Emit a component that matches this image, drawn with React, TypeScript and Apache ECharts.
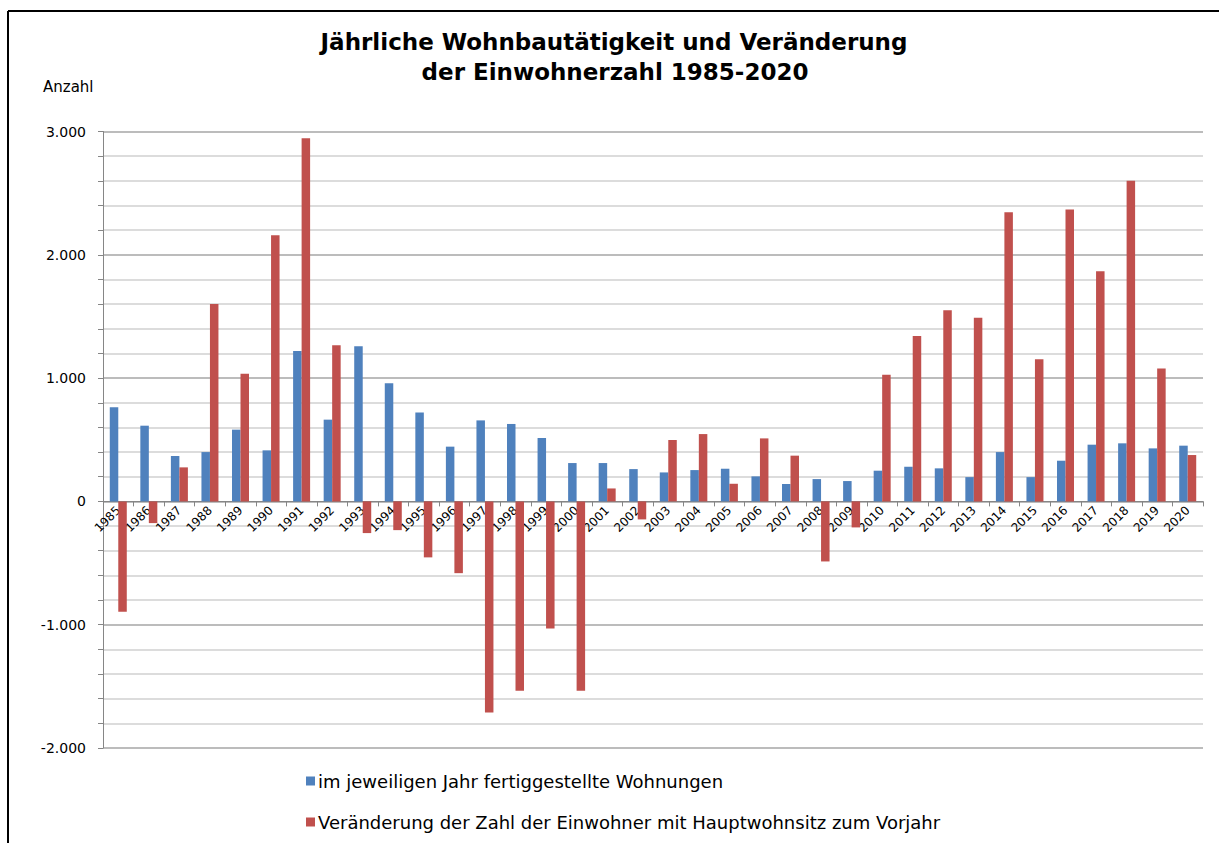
import React, { useEffect, useRef } from "react";
import * as echarts from "echarts";

const years: string[] = [
  "1985", "1986", "1987", "1988", "1989", "1990", "1991", "1992", "1993", "1994",
  "1995", "1996", "1997", "1998", "1999", "2000", "2001", "2002", "2003", "2004",
  "2005", "2006", "2007", "2008", "2009", "2010", "2011", "2012", "2013", "2014",
  "2015", "2016", "2017", "2018", "2019", "2020",
];

const wohnungen: number[] = [
  763, 614, 368, 400, 582, 414, 1220, 663, 1258, 958,
  720, 444, 657, 628, 514, 311, 311, 262, 235, 254,
  265, 203, 141, 181, 165, 249, 281, 268, 197, 400,
  197, 330, 460, 471, 430, 452,
];

const einwohner: number[] = [
  -895, -176, 276, 1601, 1036, 2159, 2946, 1266, -257, -233,
  -454, -582, -1712, -1536, -1031, -1536, 105, -146, 498, 546,
  143, 511, 371, -487, -211, 1028, 1342, 1550, 1490, 2345,
  1152, 2367, 1866, 2600, 1077, 376,
];

const seriesNames: string[] = [
  "im jeweiligen Jahr fertiggestellte Wohnungen",
  "Veränderung der Zahl der Einwohner mit Hauptwohnsitz zum Vorjahr",
];

const titleLines: string[] = [
  "Jährliche Wohnbautätigkeit und Veränderung",
  "der Einwohnerzahl 1985-2020",
];

const FONT = "'DejaVu Sans', 'Open Sans', sans-serif";

const Y_MIN = -2000;
const Y_MAX = 3000;
const GRID_TOP = 131.5;
const GRID_BOTTOM = 95;
const CHART_H = 843;

function fmt(v: number): string {
  const s = Math.abs(v).toString().replace(/\B(?=(\d{3})+(?!\d))/g, ".");
  return (v < 0 ? "-" : "") + s;
}

export default function App() {
  const ref = useRef<HTMLDivElement>(null);
  useEffect(() => {
    if (!ref.current) return;
    const chart = echarts.init(ref.current, null, { renderer: "svg" });
    const gridH = CHART_H - GRID_TOP - GRID_BOTTOM;
    const zeroOffset = (gridH * (0 - Y_MIN)) / (Y_MAX - Y_MIN);
    chart.setOption({
      animation: false,
      backgroundColor: "#ffffff",
      textStyle: { fontFamily: FONT },
      title: [
        {
          text: titleLines[0],
          left: 614,
          top: 30,
          padding: 0,
          textAlign: "center",
          textStyle: { fontFamily: FONT, fontSize: 23, fontWeight: "bold", color: "#000" },
        },
        {
          text: titleLines[1],
          left: 615,
          top: 60,
          padding: 0,
          textAlign: "center",
          textStyle: { fontFamily: FONT, fontSize: 23, fontWeight: "bold", color: "#000" },
        },
        {
          text: "Anzahl",
          left: 43,
          top: 79,
          padding: 0,
          textStyle: { fontFamily: FONT, fontSize: 15, fontWeight: "normal", color: "#000" },
        },
      ],
      graphic: [
        { type: "line", shape: { x1: 8, y1: 11, x2: 1219, y2: 11 }, style: { stroke: "#000", lineWidth: 2 } },
        { type: "line", shape: { x1: 8, y1: 11, x2: 8, y2: 843 }, style: { stroke: "#000", lineWidth: 2 } },
      ],
      legend: {
        orient: "vertical",
        left: 306,
        top: 771,
        padding: 0,
        itemWidth: 9,
        itemHeight: 9,
        itemGap: 21,
        icon: "rect",
        textStyle: { fontFamily: FONT, fontSize: 18, color: "#000", lineHeight: 20, padding: [0, 0, 0, -2] },
        data: seriesNames,
      },
      grid: { left: 103, right: 16, top: GRID_TOP, bottom: GRID_BOTTOM, containLabel: false },
      xAxis: {
        type: "category",
        data: years,
        position: "bottom",
        offset: -zeroOffset,
        axisLine: { onZero: false, lineStyle: { color: "#868686" } },
        axisTick: { show: true, length: 5, lineStyle: { color: "#868686" } },
        axisLabel: { interval: 0, rotate: 45, fontSize: 12, color: "#000", margin: 7, fontFamily: FONT },
        splitLine: { show: false },
        z: 1,
      },
      yAxis: {
        type: "value",
        min: Y_MIN,
        max: Y_MAX,
        interval: 200,
        axisLine: { show: true, lineStyle: { color: "#868686" } },
        axisTick: { show: true, length: 5, lineStyle: { color: "#868686" } },
        axisLabel: {
          fontSize: 14,
          color: "#000",
          margin: 17,
          fontFamily: FONT,
          formatter: (v: number) => (v % 1000 === 0 ? fmt(v) : ""),
        },
        splitLine: {
          show: true,
          lineStyle: { color: ["#a6a6a6", "#d0d0d0", "#d0d0d0", "#d0d0d0", "#d0d0d0"], width: 1.5 },
        },
      },
      series: [
        {
          name: seriesNames[0],
          type: "bar",
          data: wohnungen,
          barWidth: 8.5,
          barGap: "0%",
          itemStyle: { color: "#4F81BD" },
          z: 3,
        },
        {
          name: seriesNames[1],
          type: "bar",
          data: einwohner,
          barWidth: 8.5,
          itemStyle: { color: "#C0504D" },
          z: 3,
        },
      ],
    });
    return () => chart.dispose();
  }, []);
  return (
    <div
      ref={ref}
      style={{ position: "absolute", left: 0, top: 0, width: 1219, height: 843 }}
    />
  );
}
